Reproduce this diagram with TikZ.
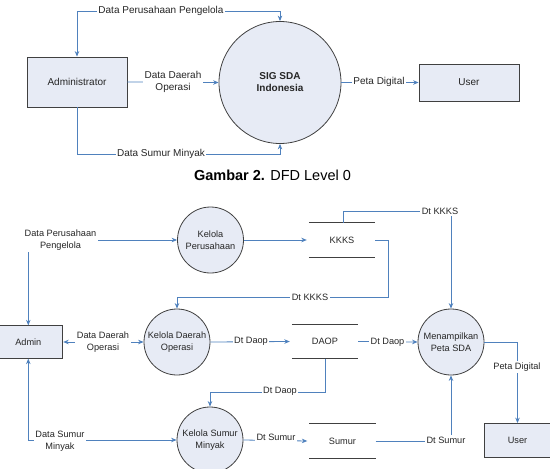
\documentclass[tikz,border=0pt]{standalone}
\usepackage{fontspec}
\setmainfont{Liberation Sans}
\usetikzlibrary{arrows.meta}
\definecolor{linec}{RGB}{79,129,189}
\definecolor{fillc}{RGB}{231,235,245}
\definecolor{edgec}{RGB}{64,64,64}
\definecolor{txtc}{RGB}{38,38,38}
\begin{document}
\begin{tikzpicture}[x=1pt,y=-1pt,
  every node/.style={text=txtc},
  entity/.style={draw=edgec,fill=fillc,line width=0.8pt,rectangle,inner sep=0pt},
  proc/.style={draw=edgec,fill=fillc,line width=0.8pt,circle,inner sep=0pt,align=center},
  store/.style={rectangle,inner sep=0pt,minimum width=66pt,minimum height=34pt},
  storeline/.style={draw=edgec,line width=0.9pt},
  flow/.style={draw=linec,line width=0.8pt},
  arr/.style={flow,-{Stealth[length=5.5pt,width=4.5pt]}},
  both/.style={flow,{Stealth[length=5.5pt,width=4.5pt]}-{Stealth[length=5.5pt,width=4.5pt]}},
  lbl/.style={fill=white,inner sep=1.5pt,align=center,font=\fontsize{10}{12}\selectfont},
  lbls/.style={fill=white,inner sep=1.5pt,align=center,font=\fontsize{9.2}{12}\selectfont},
]
\useasboundingbox (0,0) rectangle (550,469);
% ---------- Level 0 ----------
\node[entity,minimum width=100pt,minimum height=50pt,font=\fontsize{10}{12}\selectfont] (admin0) at (77,82) {Administrator};
\node[proc,minimum size=122pt,font=\fontsize{10}{12}\selectfont\bfseries] (sig) at (280,82.5) {SIG SDA\\Indonesia};
\node[entity,minimum width=100pt,minimum height=37pt,font=\fontsize{10}{12}\selectfont] (user0) at (469,82.5) {User};

\coordinate (t1) at (77,11);
\coordinate (t2) at (280,11);
\draw[both] (admin0.north) -- (t1) -- (t2) -- (sig.north);
\node[lbl] (l1) at (161,11) {Data Perusahaan Pengelola};

\coordinate (b1) at (77,154);
\coordinate (b2) at (280,154);
\draw[arr] (admin0.south) -- (b1) -- (b2) -- (sig.south);
\node[lbl] (l2) at (161,154) {Data Sumur Minyak};

\draw[arr] (admin0.east) -- (sig.west);
\node[lbl] (l3) at (173,82) {Data Daerah\\Operasi};

\draw[arr] (sig.east) -- (user0.west);
\node[lbl] (l4) at (379,82) {Peta Digital};

\node[font=\fontsize{14.5}{17}\selectfont,text=black] (cap) at (272.5,175) {\textbf{Gambar 2.} DFD Level 0};

% ---------- Level 1 ----------
\node[entity,minimum width=69pt,minimum height=32.5pt,font=\fontsize{9.2}{11}\selectfont] (admin) at (28.3,342) {Admin};
\node[proc,minimum size=66pt,font=\fontsize{9.2}{12}\selectfont] (kp) at (210.5,240) {Kelola\\Perusahaan};
\node[proc,minimum size=66pt,font=\fontsize{9.2}{12}\selectfont] (kdo) at (177,342) {Kelola Daerah\\Operasi};
\node[proc,minimum size=66pt,font=\fontsize{9.2}{12}\selectfont] (mps) at (451,342) {Menampilkan\\Peta SDA};
\node[proc,minimum size=66pt,font=\fontsize{9.2}{12}\selectfont] (ksm) at (210,440) {Kelola Sumur\\Minyak};
\node[entity,minimum width=67pt,minimum height=34pt,font=\fontsize{9.2}{11}\selectfont] (user) at (517.5,440.5) {User};

\node[store,font=\fontsize{9.2}{11}\selectfont] (kkks) at (342,240) {KKKS};
\node[store,font=\fontsize{9.2}{11}\selectfont] (daop) at (325,341.5) {DAOP};
\node[store,font=\fontsize{9.2}{11}\selectfont] (sumur) at (342.5,441) {Sumur};
\foreach \s in {kkks,daop,sumur}{
  \draw[storeline] (\s.north west) -- (\s.north east);
  \draw[storeline] (\s.south west) -- (\s.south east);
}

% Data Perusahaan Pengelola
\coordinate (c1) at (admin.north |- kp.west);
\draw[both] (kp.west) -- (c1) -- (admin.north);
\node[lbls] (m1) at (60.5,240) {Data Perusahaan\\Pengelola};

% to KKKS
\draw[arr] (kp.east) -- ([xshift=-2pt]kkks.west);

% Dt KKKS to Menampilkan
\coordinate (c2) at (343,211);
\coordinate (c3) at (mps.north |- c2);
\draw[arr] (kkks.north -| c2) -- (c2) -- (c3) -- (mps.north);
\node[lbls] (m2) at (440,211) {Dt KKKS};

% Dt KKKS to Kelola Daerah
\coordinate (c4) at (388,240);
\coordinate (c5) at (388,297);
\coordinate (c6) at (kdo.north |- c5);
\draw[arr] (kkks.east) -- (c4) -- (c5) -- (c6) -- (kdo.north);
\node[lbls] (m3) at (310,297) {Dt KKKS};

% Data Daerah Operasi
\draw[both] (admin.east) -- (kdo.west);
\node[lbls] (m4) at (103,342) {Data Daerah\\Operasi};

% Dt Daop
\draw[arr] (kdo.east) -- ([xshift=-2pt]daop.west);
\node[lbls] (m5) at (251,341) {Dt Daop};
\draw[arr] (daop.east) -- (mps.west);
\node[lbls] (m6) at (387.5,342) {Dt Daop};

\coordinate (c7) at (daop.south |- 0,392);
\coordinate (c8) at (ksm.north |- c7);
\draw[arr] (daop.south) -- (c7) -- (c8) -- (ksm.north);
\node[lbls] (m7) at (280,391) {Dt Daop};

% Data Sumur Minyak
\coordinate (c9) at (admin.south |- ksm.west);
\draw[both] (ksm.west) -- (c9) -- (admin.south);
\node[lbls] (m8) at (60,441) {Data Sumur\\Minyak};

% Dt Sumur
\draw[arr] (ksm.east) -- ([xshift=-2pt]sumur.west);
\node[lbls] (m9) at (276,437) {Dt Sumur};
\coordinate (c10) at (mps.south |- sumur.east);
\draw[arr] (sumur.east) -- (c10) -- (mps.south);
\node[lbls] (m10) at (446,440) {Dt Sumur};

% Peta Digital
\coordinate (c11) at (user.north |- mps.east);
\draw[arr] (mps.east) -- (c11) -- (user.north);
\node[lbls] (m11) at (517,367) {Peta Digital};
\end{tikzpicture}
\end{document}
